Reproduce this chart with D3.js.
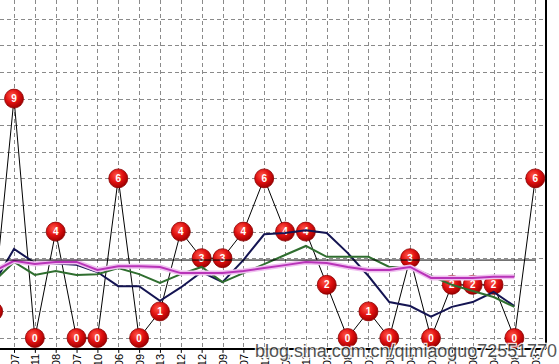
<!DOCTYPE html>
<html><head><meta charset="utf-8">
<script src="https://cdn.jsdelivr.net/npm/d3@7"></script>
<style>html,body{margin:0;padding:0;background:#fff;overflow:hidden}</style>
</head><body>
<svg id="c" width="559" height="364"></svg>
<script>
// index -1 .. 25
const categories = ["07","07","11","08","07","10","06","09","13","12","12","09","07","12","05","11","02","08","01","08","04","01","05","06","04","08","03"];
const hits = [1,9,0,4,0,0,6,0,1,4,3,3,4,6,4,4,2,0,1,0,3,0,2,2,2,0,6];
const navy = [2.0,3.35,2.82,2.8,2.75,2.48,1.95,1.95,1.4,1.9,2.48,2.1,2.93,3.9,3.95,4.05,3.95,3.2,2.33,1.35,1.2,0.8,1.17,1.35,1.73,1.2,null];
const green = [2.1,2.86,2.37,2.52,2.37,2.4,2.63,2.4,2.07,2.4,2.67,2.1,2.44,2.78,3.12,3.46,3.05,3.05,3.05,2.67,2.67,2.33,2.0,1.77,1.54,1.17,null];
const magenta = [2.5,2.9,2.78,2.86,2.86,2.56,2.7,2.7,2.67,2.44,2.44,2.44,2.52,2.63,2.74,2.86,2.82,2.67,2.56,2.56,2.67,2.26,2.26,2.26,2.3,2.3,null];
const average = 2.93;
const yTicks = [0,1,2,3,4,5,6,7,8,9,10,11,12,13];
const watermark = "blog.sina.com.cn/qimiaoguo72551770";

const svg = d3.select("#c");
const idx = d3.range(-1, hits.length - 1);
const x = d3.scaleLinear().domain([-1, 25]).range([-6.85, 535.25]);
const y = d3.scaleLinear().domain([0, 12]).range([338, 18.8]);
const yBase = y(-0.41);
const xRight = 546;

const defs = svg.append("defs");
const g1 = defs.append("radialGradient").attr("id","ball").attr("cx","40%").attr("cy","35%").attr("r","65%");
g1.append("stop").attr("offset","0%").attr("stop-color","#ff5a4a");
g1.append("stop").attr("offset","55%").attr("stop-color","#e01010");
g1.append("stop").attr("offset","100%").attr("stop-color","#a00000");

// grid
const grid = svg.append("g").attr("stroke","#8a8a8a").attr("stroke-width",1).attr("stroke-dasharray","4,3");
grid.selectAll("line.h").data(yTicks).join("line")
  .attr("x1",0).attr("x2",xRight).attr("y1",d=>Math.round(y(d))+0.5).attr("y2",d=>Math.round(y(d))+0.5);
grid.selectAll("line.v").data(idx.filter(i=>i>=0)).join("line")
  .attr("x1",d=>Math.round(x(d))+0.5).attr("x2",d=>Math.round(x(d))+0.5).attr("y1",0).attr("y2",yBase);

// x axis
const axis = svg.append("g").attr("transform",`translate(0,${yBase})`)
  .call(d3.axisBottom(x).tickValues(idx).tickSize(4).tickFormat(i=>categories[i+1]));
axis.select(".domain").attr("stroke","#000").attr("stroke-width",2).attr("d",`M0,0H${xRight}`);
axis.selectAll(".tick line").attr("stroke","#000");
axis.selectAll(".tick text").attr("transform","rotate(-90)").attr("text-anchor","end")
  .attr("font-family","Liberation Sans, Arial").attr("font-size",11).attr("fill","#000")
  .attr("dy",null).attr("y",0).attr("x",-5).style("dominant-baseline","central");
// right border
svg.append("line").attr("x1",xRight).attr("x2",xRight).attr("y1",0).attr("y2",yBase).attr("stroke","#000").attr("stroke-width",2);

// data line
const pts = hits.map((v,k)=>[idx[k], v]);
svg.append("path").datum(pts).attr("fill","none").attr("stroke","#000").attr("stroke-width",1)
  .attr("d", d3.line().x(d=>x(d[0])).y(d=>y(d[1])));

// balls
const balls = svg.append("g").selectAll("g").data(pts).join("g")
  .attr("transform",d=>`translate(${x(d[0])},${y(d[1])})`);
balls.append("circle").attr("r",9.5).attr("fill","url(#ball)").attr("stroke","#8a0000").attr("stroke-width",0.8);
balls.append("text").text(d=>d[1]).attr("text-anchor","middle").attr("dy","0.36em")
  .attr("font-family","Liberation Sans, Arial").attr("font-weight","bold").attr("font-size",10).attr("fill","#fff");

function seriesLine(arr){
  return d3.line().defined(d=>d[1]!==null).x(d=>x(d[0])).y(d=>y(d[1]))(arr.map((v,k)=>[idx[k],v]));
}
svg.append("path").attr("d",seriesLine(navy)).attr("fill","none").attr("stroke","#141452").attr("stroke-width",2);
svg.append("path").attr("d",seriesLine(green)).attr("fill","none").attr("stroke","#2f6e2f").attr("stroke-width",2);
svg.append("path").attr("d",seriesLine(magenta)).attr("fill","none").attr("stroke","#f0bff0").attr("stroke-width",5).attr("stroke-linejoin","round");
svg.append("path").attr("d",seriesLine(magenta)).attr("fill","none").attr("stroke","#b833b8").attr("stroke-width",2);

// average line
svg.append("line").attr("x1",0).attr("x2",x(25)).attr("y1",y(average)).attr("y2",y(average)).attr("stroke","#000").attr("stroke-width",1);

// watermark
svg.append("text").attr("x",255).attr("y",357).text(watermark)
  .attr("font-family","Liberation Sans, Arial").attr("font-size",18).attr("fill","#3a3a3a")
  .attr("textLength",302).attr("lengthAdjust","spacingAndGlyphs")
  .attr("stroke","#fff").attr("stroke-width",2.5).attr("paint-order","stroke").attr("opacity",0.85);
</script>
</body></html>
